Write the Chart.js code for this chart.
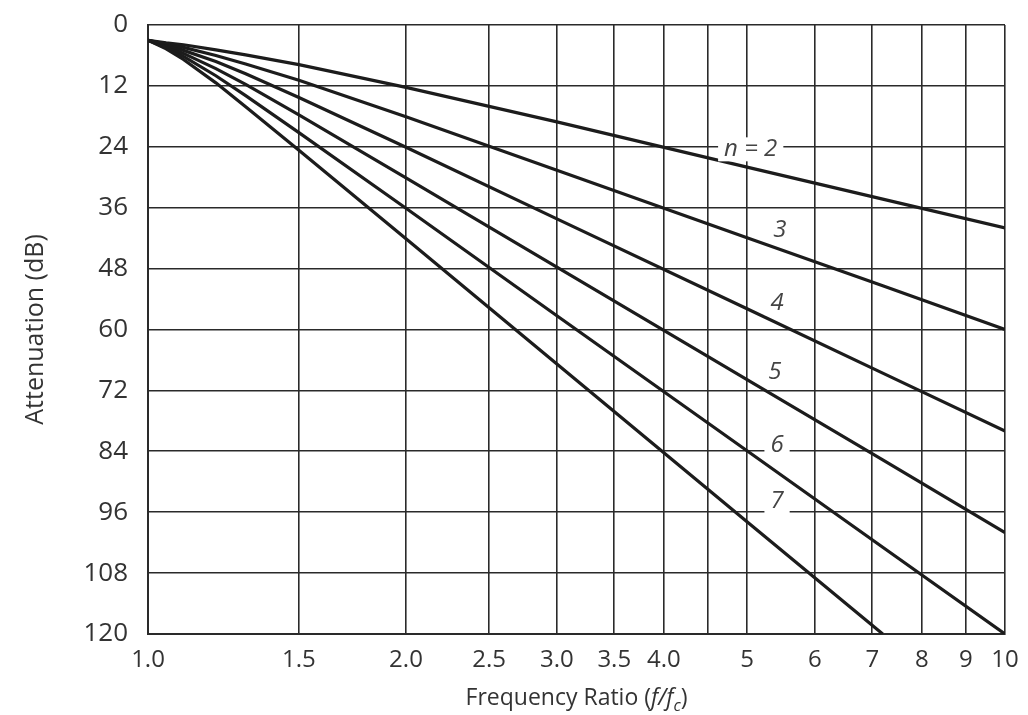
<!DOCTYPE html>
<html>
<head>
<meta charset="utf-8">
<title>Attenuation vs frequency ratio</title>
<script src="https://cdn.jsdelivr.net/npm/chart.js@4.4.1/dist/chart.umd.min.js"></script>
<style>
  html, body { margin: 0; padding: 0; background: #fff; }
  #wrap { width: 1028px; height: 715px; }
</style>
</head>
<body>
<div id="wrap"><canvas id="chart"></canvas></div>
<script>
// ---- data ----
// frequency ratio f/fc at which the curves were read
const ratio = [1.0, 1.05, 1.1, 1.2, 1.3, 1.5, 2.0, 3.0, 5.0, 7.2, 10];

// attenuation (dB) for each order n
const n2 = [3.0, 3.5, 3.9, 4.9, 5.9, 7.8, 12.3, 19.1, 28.0, 34.3, 40.0];
const n3 = [3.0, 3.7, 4.4, 6.0, 7.7, 10.9, 18.1, 28.6, 41.9, 51.4, 60.0];
const n4 = [3.0, 3.9, 5.0, 7.2, 9.6, 14.3, 24.1, 38.2, 55.9, 68.6, 80.0];
const n5 = [3.0, 4.2, 5.6, 8.6, 11.7, 17.7, 30.1, 47.7, 69.9, 85.7, 100.0];
const n6 = [3.0, 4.5, 6.2, 10.0, 13.9, 21.2, 36.1, 57.3, 83.9, 102.9, 120.0];
const n7 = [3.0, 4.7, 6.8, 11.4, 16.1, 24.7, 42.1, 66.8, 97.9, 120.0, null];

const orders = ['n = 2', '3', '4', '5', '6', '7'];
const series = [n2, n3, n4, n5, n6, n7];

// where each order label is written (f/fc, dB)
const labelRatio = [5.05, 5.46, 5.42, 5.39, 5.42, 5.42];
const labelDb = [24.5, 40.5, 54.8, 68.4, 82.7, 93.9];

// axis ticks
const xTicks = [1.0, 1.5, 2.0, 2.5, 3.0, 3.5, 4.0, 4.5, 5, 6, 7, 8, 9, 10];
const xTickLabels = ['1.0', '1.5', '2.0', '2.5', '3.0', '3.5', '4.0', '', '5', '6', '7', '8', '9', '10'];
const yTicks = [0, 12, 24, 36, 48, 60, 72, 84, 96, 108, 120];

const INK = '#1c1c1c';
const GRID = '#2a2a2a';
const FONT = '"Open Sans", "DejaVu Sans", sans-serif';

const orderLabels = {
  id: 'orderLabels',
  afterDatasetsDraw(chart) {
    const { ctx, scales } = chart;
    ctx.save();
    ctx.font = 'italic 24px ' + FONT;
    ctx.textAlign = 'center';
    ctx.textBaseline = 'middle';
    orders.forEach((txt, i) => {
      const px = scales.x.getPixelForValue(labelRatio[i]);
      const py = scales.y.getPixelForValue(labelDb[i]);
      const w = ctx.measureText(txt).width;
      ctx.fillStyle = '#fff';
      ctx.fillRect(px - w / 2 - 6, py - 12, w + 12, 24);
      ctx.fillStyle = '#444';
      ctx.fillText(txt, px, py);
    });
    ctx.restore();
  },
};

// x title with italic f/f and subscript c
const xTitle = {
  id: 'xTitle',
  afterDraw(chart) {
    const { ctx, chartArea } = chart;
    const parts = [
      { t: 'Frequency Ratio (', f: '23px ' + FONT, dy: 0 },
      { t: 'f/f', f: 'italic 23px ' + FONT, dy: 0 },
      { t: 'c', f: 'italic 16px ' + FONT, dy: 6 },
      { t: ')', f: '23px ' + FONT, dy: 0 },
    ];
    ctx.save();
    ctx.fillStyle = '#333';
    ctx.textBaseline = 'alphabetic';
    let total = 0;
    parts.forEach((p) => { ctx.font = p.f; p.w = ctx.measureText(p.t).width; total += p.w; });
    let x = (chartArea.left + chartArea.right) / 2 - total / 2;
    const y = 705;
    parts.forEach((p) => {
      ctx.font = p.f;
      ctx.fillText(p.t, x, y + p.dy);
      x += p.w;
    });
    ctx.restore();
  },
};

new Chart(document.getElementById('chart'), {
  type: 'line',
  data: {
    datasets: series.map((vals, i) => ({
      label: orders[i],
      data: ratio.map((r, k) => ({ x: r, y: vals[k] })).filter((p) => p.y !== null),
      borderColor: INK,
      borderWidth: 3.2,
      pointRadius: 0,
      fill: false,
    })),
  },
  options: {
    responsive: true,
    maintainAspectRatio: false,
    animation: false,
    layout: { padding: { top: 25, right: 23, left: 0, bottom: 0 } },
    plugins: {
      legend: { display: false },
      tooltip: { enabled: false },
    },
    scales: {
      x: {
        type: 'logarithmic',
        min: 1,
        max: 10,
        afterBuildTicks: (s) => { s.ticks = xTicks.map((v) => ({ value: v })); },
        afterFit: (s) => { s.height = 81; s.paddingRight = 0; },
        ticks: {
          autoSkip: false,
          maxRotation: 0,
          padding: 12,
          color: '#333',
          font: { family: FONT, size: 24 },
          callback: (v, i) => xTickLabels[i],
        },
        grid: { color: GRID, lineWidth: 1.6, drawTicks: false },
        border: { display: true, color: GRID, width: 2 },
      },
      y: {
        min: 0,
        max: 120,
        reverse: true,
        afterBuildTicks: (s) => { s.ticks = yTicks.map((v) => ({ value: v })); },
        afterFit: (s) => { s.width = 148; s.paddingTop = 0; s.paddingBottom = 0; },
        ticks: {
          padding: 20,
          color: '#333',
          font: { family: FONT, size: 26 },
        },
        grid: { color: GRID, lineWidth: 1.6, drawTicks: false },
        border: { display: true, color: GRID, width: 2 },
        title: {
          display: true,
          text: 'Attenuation (dB)',
          color: '#333',
          font: { family: FONT, size: 25 },
          padding: { top: 21, bottom: 0 },
        },
      },
    },
  },
  plugins: [orderLabels, xTitle],
});
</script>
</body>
</html>
